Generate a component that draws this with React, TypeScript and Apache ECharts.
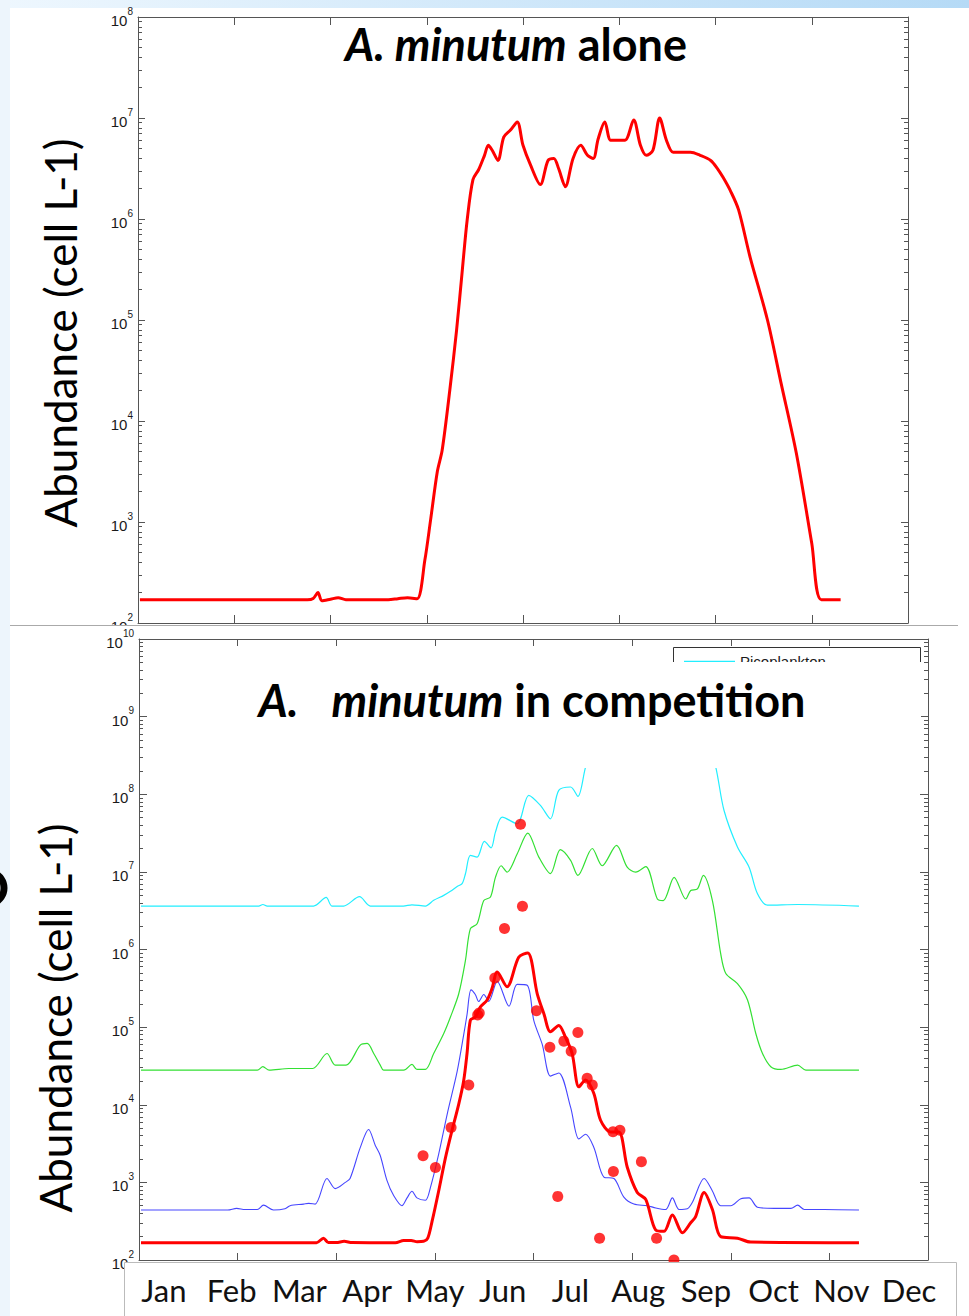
import React, { useEffect, useRef } from "react";
import * as echarts from "echarts";

// ---------- DATA ----------
// x = day of year, y = abundance (cell L-1)
const aloneDays = [1, 10, 50, 88, 91, 93.5, 95.5, 100, 104, 108, 130, 135, 140, 145, 149, 152, 155.5, 158, 162, 165.5, 168.5, 171, 174, 177, 180, 182, 184, 187, 190, 193.5, 197, 200, 204, 209, 213, 216, 218.5, 222, 226, 230, 233.5, 236.5, 239, 242.5, 245.5, 249, 253, 257.5, 261, 264, 267.5, 271, 274.5, 278, 282, 287, 292, 297.5, 301, 304, 308, 312, 318, 327, 334, 342, 350, 355, 365];
const aloneValues = [170, 170, 170, 170, 175, 200, 166, 172, 178, 170, 170, 174, 178, 174, 417, 1050, 3160, 5130, 20400, 79400, 316000, 977000, 2450000, 3090000, 4270000, 5370000, 4790000, 3800000, 6460000, 7590000, 9120000, 5370000, 3390000, 2190000, 3800000, 3980000, 3160000, 2090000, 3980000, 5370000, 4270000, 3980000, 6170000, 9120000, 6030000, 6030000, 6030000, 9550000, 5370000, 4270000, 4790000, 10000000, 6030000, 4570000, 4570000, 4570000, 4270000, 3800000, 3160000, 2570000, 1860000, 1230000, 417000, 100000, 24000, 4790, 617, 170, 170];

const picoDays = [1, 45, 60.7, 62.8, 65, 88.5, 94.9, 97.8, 103.7, 111.8, 117.3, 134, 138.4, 145.2, 149.4, 154.5, 157.9, 161.3, 163.8, 165.5, 168, 171.4, 175.1, 178.5, 180.7, 184.1, 191.7, 197.6, 203.5, 208.6, 212.8, 218.8, 222.5, 226.4, 230, 240, 250, 260, 270, 280, 288, 292.4, 296.6, 303.4, 309.3, 313.5, 318.6, 334.1, 365];
const picoValues = [3630000, 3630000, 3630000, 3800000, 3630000, 3630000, 4680000, 3630000, 3630000, 4790000, 3630000, 3630000, 3760000, 3630000, 4300000, 4980000, 5610000, 6500000, 7050000, 9460000, 16300000, 15500000, 24700000, 20400000, 32500000, 50700000, 41700000, 96600000, 71800000, 48300000, 112000000, 124000000, 93800000, 224000000, 400000000, 890000000, 1260000000, 1000000000, 1400000000, 1000000000, 500000000, 224000000, 61700000, 20900000, 11500000, 5250000, 3720000, 3800000, 3630000];

const greenDays = [1, 45, 60, 62.8, 66, 76, 88, 95.3, 99.5, 105, 112.2, 115.7, 119, 122.3, 124, 134.2, 138.4, 140.9, 145.2, 149.4, 154.5, 157.9, 162.1, 165.5, 168, 171.4, 174.8, 178.2, 180.7, 183.6, 186.6, 191.7, 197.1, 202.7, 208.6, 213.6, 218.8, 222.5, 229.8, 234.8, 242.1, 247.5, 251.8, 256.9, 262.8, 265.8, 271.3, 277.2, 279.7, 283.1, 286.1, 290.7, 294.9, 297.5, 303.4, 308.5, 312.7, 316.1, 320.3, 325.4, 333.9, 338.1, 365];
const greenValues = [27900, 27900, 27900, 30900, 27900, 29300, 29300, 45700, 32400, 32400, 58600, 61700, 45700, 32400, 27900, 27900, 33100, 28500, 28500, 45700, 82800, 135000, 269000, 724000, 1860000, 2140000, 4270000, 4750000, 8500000, 12000000, 9930000, 17000000, 31600000, 15500000, 9480000, 19300000, 14100000, 9020000, 20000000, 12000000, 21900000, 11500000, 9930000, 11700000, 4470000, 4270000, 8510000, 4470000, 5750000, 6030000, 9020000, 4270000, 885000, 490000, 363000, 224000, 82800, 45700, 30900, 28500, 32400, 27900, 27900];

const blueDays = [1, 45, 49.5, 53.8, 60, 63.1, 68.2, 74, 76.6, 83.4, 86, 89.3, 95.3, 99.5, 104.6, 107, 112.2, 116.4, 119.8, 122.3, 125.7, 129.1, 133.3, 135.9, 138.4, 140.9, 145.2, 147.7, 151.9, 156.2, 161.3, 164.6, 166.3, 168.3, 170.5, 172.2, 174.8, 177.3, 181.6, 187.6, 191.7, 196.8, 200.2, 204.4, 208.6, 212.8, 218.8, 223, 226.4, 230.6, 235.7, 240.8, 245.8, 250.9, 257.7, 262, 267, 270.4, 273.8, 278, 280.5, 286.5, 290.7, 294.9, 300, 305.1, 309.3, 313.5, 322, 330.5, 333.9, 337.3, 347.4, 365];
const blueValues = [440, 440, 462, 447, 447, 509, 440, 457, 501, 525, 537, 525, 1120, 832, 1000, 1120, 2820, 4790, 2990, 2220, 1060, 676, 501, 631, 769, 631, 589, 851, 2290, 7480, 26900, 79400, 145000, 302000, 263000, 214000, 263000, 214000, 389000, 186000, 355000, 347000, 120000, 60300, 23400, 25700, 9330, 3630, 4170, 2820, 1170, 1120, 646, 525, 501, 468, 447, 631, 447, 457, 550, 1120, 776, 501, 501, 617, 631, 479, 462, 462, 509, 447, 447, 440];

const modelDays = [1, 45, 90, 93.5, 96, 100, 104, 108, 130, 134.2, 138, 141, 144.3, 146.4, 148.6, 151.9, 155.3, 158.7, 162.1, 164.6, 166.3, 168, 170.5, 173.1, 176.5, 179, 181.6, 186.6, 192.5, 197.1, 201.9, 205.3, 208.6, 212.8, 216.2, 219.6, 223, 226.4, 230.6, 234, 239.1, 243.3, 247.5, 252.6, 256.9, 261.9, 266.2, 270.4, 275.5, 279.7, 282.2, 286.5, 290.7, 294.9, 303.4, 310.1, 365];
const modelValues = [167, 167, 167, 191, 168, 168, 174, 168, 167, 178, 178, 172, 174, 191, 316, 769, 2040, 4680, 10200, 20400, 45700, 123000, 135000, 182000, 224000, 316000, 513000, 331000, 794000, 902000, 269000, 148000, 87100, 105000, 74100, 45700, 17000, 20900, 14000, 6310, 4470, 4470, 1580, 741, 603, 245, 234, 380, 224, 302, 363, 741, 447, 200, 191, 170, 167];

const obsDays = [144, 150.3, 158.2, 167.2, 171.7, 172.5, 180.4, 185.3, 193.4, 194.4, 201.5, 208.3, 212.3, 215.4, 219.1, 222.5, 227.2, 229.8, 233.5, 240.3, 243.8, 240.5, 254.7, 262.4, 271.2];
const obsValues = [2200, 1550, 5100, 18000, 143000, 152000, 430000, 1860000, 41000000, 3600000, 162000, 55000, 660, 66000, 49000, 85000, 22000, 18000, 190, 4500, 4700, 1380, 1850, 190, 100];

const months = ["Jan", "Feb", "Mar", "Apr", "May", "Jun", "Jul", "Aug", "Sep", "Oct", "Nov", "Dec"];
const dayAxis = { min: 0, max: 400, interval: 50 };
const topDecades = { min: 2, max: 8 };
const bottomDecades = { min: 2, max: 10 };
const legendNames = ["Picoplankton"];

// ---------- STYLE ----------
const AX = "#555555";
const FONT_AX = "'Liberation Sans', Arial, sans-serif";
const FONT_SLIDE = "Lato, 'Open Sans', sans-serif";

const zip = (xs: number[], ys: number[]) => xs.map((x, i) => [x, ys[i]]);

function minorLogTicks(lo: number, hi: number) {
  const out: number[] = [];
  for (let k = lo; k < hi; k++) for (let m = 2; m <= 9; m++) out.push(k + Math.log10(m));
  return out;
}

const tickRich = {
  n: { fontSize: 15, fontFamily: FONT_AX, color: "#1a1a1a", lineHeight: 22, verticalAlign: "bottom" },
  e: { fontSize: 10, fontFamily: FONT_AX, color: "#1a1a1a", lineHeight: 8, verticalAlign: "top" },
};

function yAxesFor(gridIndex: number, lo: number, hi: number, majorLen: number, minorLen: number) {
  const base = { gridIndex, type: "value", min: lo, max: hi, interval: 1, splitLine: { show: false } };
  const line = { show: true, onZero: false, lineStyle: { color: AX, width: 1 } };
  const major = { show: true, inside: true, length: majorLen, lineStyle: { color: AX, width: 1 } };
  const minor = { show: true, inside: true, length: minorLen, customValues: minorLogTicks(lo, hi), lineStyle: { color: AX, width: 1 } };
  return [
    { gridIndex, type: "log", logBase: 10, min: Math.pow(10, lo), max: Math.pow(10, hi), show: false },
    {
      ...base, position: "left", axisLine: line, axisTick: major,
      axisLabel: { show: true, margin: 5, formatter: (v: number) => `{n|10}{e|${Math.round(v)}}`, rich: tickRich },
    },
    { ...base, position: "left", axisLine: { show: false }, axisTick: minor, axisLabel: { show: false } },
    { ...base, position: "right", axisLine: line, axisTick: major, axisLabel: { show: false } },
    { ...base, position: "right", axisLine: { show: false }, axisTick: minor, axisLabel: { show: false } },
  ];
}

function xAxesFor(gridIndex: number, tickLen: number) {
  const common = {
    gridIndex, type: "value", ...dayAxis,
    axisLine: { show: true, onZero: false, lineStyle: { color: AX, width: 1 } },
    axisTick: { show: true, inside: true, length: tickLen, lineStyle: { color: AX, width: 1 } },
    axisLabel: { show: false }, splitLine: { show: false },
  };
  return [{ ...common, position: "bottom" }, { ...common, position: "top" }];
}

const titleRich = (size: number) => ({
  i: { fontSize: size, fontFamily: FONT_SLIDE, fontWeight: "bold", fontStyle: "italic", color: "#000" },
  b: { fontSize: size, fontFamily: FONT_SLIDE, fontWeight: "bold", color: "#000" },
  g: { fontSize: size, fontFamily: FONT_SLIDE, width: 33 },
});

const yTitle = (x: number, y: number) => ({
  type: "text", x, y, rotation: Math.PI / 2, z: 12,
  style: {
    text: "Abundance (cell L-1)", fontSize: 44, fontFamily: FONT_SLIDE, fill: "#000",
    align: "center", verticalAlign: "middle", textAlign: "center", textVerticalAlign: "middle",
  },
});

function topOption() {
  return {
    animation: false,
    grid: [{ left: 138, top: 17, width: 770, height: 606, outerBoundsMode: "none", containLabel: false }],
    xAxis: xAxesFor(0, 8),
    yAxis: yAxesFor(0, topDecades.min, topDecades.max, 7, 4),
    series: [
      {
        name: "A. minutum alone", type: "line", xAxisIndex: 0, yAxisIndex: 0,
        data: zip(aloneDays, aloneValues), symbol: "none", smooth: 0.3,
        lineStyle: { color: "#ff0000", width: 3 }, itemStyle: { color: "#ff0000" }, z: 2,
      },
    ],
    graphic: [
      {
        type: "rect", z: 0, shape: { x: 0, y: 0, width: 969, height: 8 },
        style: { fill: new echarts.graphic.LinearGradient(0, 0, 1, 0, [{ offset: 0, color: "#eef7fe" }, { offset: 1, color: "#b5daf6" }]) },
      },
      { type: "rect", z: 0, shape: { x: 0, y: 0, width: 10, height: 625 }, style: { fill: "#edf5fc" } },
      {
        type: "text", x: 516, y: 44, z: 12,
        style: {
          text: "{i|A. minutum}{b| alone}", rich: titleRich(45),
          align: "center", verticalAlign: "middle", textAlign: "center", textVerticalAlign: "middle",
        },
      },
      yTitle(60, 333),
    ],
  };
}

function bottomOption() {
  const lineSeries = (name: string, days: number[], vals: number[], color: string, width: number) => ({
    name, type: "line", xAxisIndex: 0, yAxisIndex: 0, data: zip(days, vals), symbol: "none", smooth: 0.3,
    lineStyle: { color, width }, itemStyle: { color }, z: 2,
  });
  return {
    animation: false,
    grid: [
      { left: 139, top: 14, width: 789, height: 621, outerBoundsMode: "none", containLabel: false },
      { left: 130, top: 600, width: 813, height: 37, outerBoundsMode: "none", containLabel: false },
    ],
    xAxis: [
      ...xAxesFor(0, 7),
      {
        gridIndex: 1, type: "category", data: months, position: "bottom", z: 20,
        axisLine: { show: false }, axisTick: { show: false }, splitLine: { show: false },
        axisLabel: { interval: 0, margin: 12, fontSize: 31, fontFamily: FONT_SLIDE, color: "#111" },
      },
    ],
    yAxis: [
      ...yAxesFor(0, bottomDecades.min, bottomDecades.max, 8, 4),
      { gridIndex: 1, type: "value", show: false },
    ],
    legend: {
      data: legendNames.map((name) => ({ name, icon: "rect" })),
      left: 684, top: 29, itemWidth: 51, itemHeight: 1.5, padding: 0, z: 5, selectedMode: false,
      textStyle: { fontSize: 15, fontFamily: FONT_AX, color: "#1a1a1a" },
    },
    series: [
      lineSeries("Picoplankton", picoDays, picoValues, "#22eeff", 1.2),
      lineSeries("Diatoms", greenDays, greenValues, "#33e033", 1.2),
      lineSeries("Flagellates", blueDays, blueValues, "#4646ff", 1.1),
      lineSeries("A. minutum", modelDays, modelValues, "#ff0000", 3),
      {
        name: "Observations", type: "scatter", xAxisIndex: 0, yAxisIndex: 0,
        data: zip(obsDays, obsValues), symbol: "circle", symbolSize: 11,
        itemStyle: { color: "#ff0000" }, z: 3, clip: false,
      },
    ],
    graphic: [
      { type: "rect", z: 0, shape: { x: 0, y: 0, width: 10, height: 691 }, style: { fill: "#edf5fc" } },
      // fragment of a large slide letter peeking out at the left edge
      {
        type: "arc", z: 1, shape: { cx: -12, cy: 263, r: 16, startAngle: -1.2, endAngle: 1.2 },
        style: { stroke: "#000", lineWidth: 7, fill: "none" },
      },
      { type: "line", z: 1, shape: { x1: 10, y1: 0.5, x2: 958, y2: 0.5 }, style: { stroke: "#aaaaaa", lineWidth: 1 } },
      { type: "rect", z: 3, shape: { x: 673.5, y: 22.5, width: 247, height: 40 }, style: { fill: "#ffffff", stroke: "#333333", lineWidth: 1 } },
      { type: "rect", z: 10, shape: { x: 160, y: 37, width: 761, height: 106 }, style: { fill: "#ffffff" } },
      {
        type: "text", x: 532, y: 75, z: 12,
        style: {
          text: "{i|A.}{g| }{i|minutum}{b| in competition}", rich: titleRich(45),
          align: "center", verticalAlign: "middle", textAlign: "center", textVerticalAlign: "middle",
        },
      },
      yTitle(55, 393),
      { type: "rect", z: 15, shape: { x: 124.5, y: 637.5, width: 832, height: 60 }, style: { fill: "#ffffff", stroke: "#bbbbbb", lineWidth: 1 } },
    ],
  };
}

export default function App() {
  const topRef = useRef<HTMLDivElement>(null);
  const botRef = useRef<HTMLDivElement>(null);
  useEffect(() => {
    const top = echarts.init(topRef.current!, undefined, { renderer: "svg" });
    const bot = echarts.init(botRef.current!, undefined, { renderer: "svg" });
    top.setOption(topOption() as any);
    bot.setOption(bottomOption() as any);
    return () => {
      top.dispose();
      bot.dispose();
    };
  }, []);
  return (
    <div style={{ position: "absolute", left: 0, top: 0, width: 969, height: 1316, background: "#fff", overflow: "hidden" }}>
      <div ref={topRef} style={{ position: "absolute", left: 0, top: 0, width: 969, height: 625 }} />
      <div ref={botRef} style={{ position: "absolute", left: 0, top: 625, width: 969, height: 691 }} />
    </div>
  );
}
